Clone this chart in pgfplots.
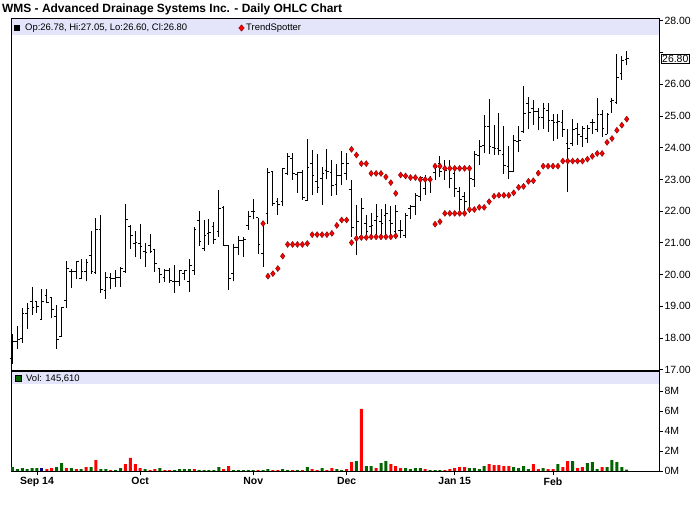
\documentclass[border=0pt]{standalone}
\usepackage{pgfplots}
\pgfplotsset{compat=1.18}
\usepackage{pgfplotstable}
\usepackage{fontspec}
\setmainfont{Liberation Sans}
\definecolor{lav}{RGB}{228,228,250}
\definecolor{vgreen}{RGB}{0,100,0}
\definecolor{vblue}{RGB}{0,0,128}
\definecolor{tsdark}{RGB}{120,0,0}

\pgfplotstableread{
i o h l c
0 17.35 18.12 17.19 17.88
1 17.88 18.37 17.66 17.95
2 17.99 18.95 17.85 18.77
3 18.77 19.09 18.30 18.93
4 19.14 19.60 18.72 18.96
5 19.14 19.16 18.79 18.98
6 18.58 19.54 18.58 19.14
7 19.35 19.56 19.09 19.11
8 19.29 19.29 18.63 18.90
9 18.67 19.03 17.66 17.95
10 18.06 18.98 18.03 18.96
11 19.19 20.42 18.95 20.19
12 20.09 20.19 19.58 20.11
13 20.11 20.42 19.86 20.40
14 19.87 20.49 19.87 20.09
15 20.09 20.49 19.79 20.38
16 20.61 21.37 20.03 20.09
17 20.06 21.77 20.03 21.42
18 21.42 21.87 19.42 19.53
19 19.51 20.09 19.24 19.91
20 19.91 20.05 19.53 19.87
21 19.87 20.16 19.61 19.91
22 19.91 20.24 19.61 20.19
23 20.09 22.22 20.06 21.74
24 21.51 21.56 20.82 21.24
25 20.98 21.38 20.56 21.00
26 20.98 21.59 20.49 20.90
27 20.74 21.00 20.24 20.70
28 20.91 21.27 20.67 20.74
29 20.79 20.80 20.09 20.35
30 20.19 20.19 19.74 20.00
31 19.91 20.19 19.77 20.14
32 20.14 20.22 19.74 19.82
33 19.77 20.30 19.42 19.77
34 19.77 20.16 19.64 20.12
35 20.04 20.16 19.82 20.12
36 19.77 20.48 19.46 20.30
37 20.12 21.51 19.98 21.42
38 21.70 22.01 20.90 21.03
39 20.82 21.72 20.75 21.24
40 21.30 21.74 20.93 21.32
41 21.51 21.66 20.98 21.11
42 21.35 22.66 21.19 22.08
43 22.12 22.16 20.91 20.92
44 20.93 20.93 19.51 19.88
45 20.03 20.98 19.79 20.87
46 20.84 21.21 20.61 21.06
47 21.09 21.19 20.56 21.12
48 21.56 22.00 21.42 21.82
49 21.98 22.37 21.74 21.98
50 21.80 21.80 20.66 20.95
51 20.66 21.66 20.24 21.61
52 21.93 23.35 21.59 23.22
53 23.24 23.26 22.16 22.24
54 22.29 22.43 21.89 22.21
55 22.29 23.35 22.16 23.35
56 23.19 23.82 23.14 23.71
57 23.66 23.85 22.98 23.19
58 23.17 23.24 22.58 23.22
59 23.21 23.31 22.35 22.42
60 22.35 24.27 22.33 23.37
61 23.50 23.93 22.50 23.14
62 22.95 23.80 22.58 22.74
63 23.03 23.38 22.19 23.19
64 23.29 23.95 23.00 23.24
65 23.21 23.61 22.47 22.82
66 22.85 23.50 22.51 23.14
67 23.14 23.89 22.82 23.50
68 23.19 23.82 22.98 23.50
69 22.68 22.98 21.19 21.49
70 21.14 22.19 20.61 21.66
71 21.19 22.40 21.14 22.08
72 21.61 21.87 21.19 21.35
73 21.53 21.93 21.19 21.56
74 21.72 22.24 21.19 21.82
75 21.66 22.08 21.19 21.61
76 21.87 22.22 21.21 21.93
77 21.69 22.16 21.21 21.61
78 21.35 22.19 21.24 21.98
79 21.40 21.72 21.14 21.38
80 21.24 21.95 21.14 21.87
81 22.08 22.19 21.74 22.14
82 22.16 22.58 21.87 22.50
83 22.47 23.10 22.33 23.06
84 22.72 23.14 22.51 23.00
85 23.00 23.10 22.56 23.00
86 23.21 23.45 22.98 23.38
87 23.50 23.74 23.08 23.24
88 23.31 23.61 22.98 23.29
89 23.35 23.61 22.72 23.03
90 23.19 23.42 22.45 22.71
91 22.63 22.77 22.00 22.38
92 22.45 22.61 21.95 22.29
93 22.05 23.30 21.95 23.02
94 23.00 23.90 22.77 23.80
95 23.77 24.24 23.45 24.05
96 24.08 25.03 23.82 24.66
97 24.66 25.55 23.80 24.05
98 24.01 24.71 23.77 23.98
99 23.98 25.09 23.77 23.92
100 23.79 24.70 23.17 23.45
101 23.42 24.05 23.03 23.24
102 23.26 24.40 23.24 24.22
103 24.20 24.70 23.87 24.22
104 24.50 25.94 24.46 25.08
105 25.40 25.61 24.60 25.10
106 25.24 25.50 24.71 25.13
107 25.13 25.24 24.55 24.95
108 24.95 25.42 24.60 25.24
109 25.19 25.42 24.50 24.87
110 24.85 25.05 24.22 24.79
111 24.79 25.05 24.29 24.82
112 24.79 25.19 24.34 24.56
113 24.13 24.58 22.61 23.98
114 24.13 24.90 24.05 24.56
115 24.61 24.77 24.08 24.42
116 24.34 24.68 24.01 24.61
117 24.29 24.71 24.16 24.61
118 24.79 24.90 24.43 24.79
119 24.58 25.58 24.50 25.06
120 25.06 25.19 24.34 24.61
121 24.43 25.08 24.43 25.06
122 25.45 25.58 25.10 25.48
123 25.42 26.97 25.38 26.22
124 26.34 26.89 26.15 26.74
125 26.78 27.05 26.60 26.80
}\ohlc

\begin{document}
\begin{tikzpicture}
\useasboundingbox (0bp,0bp) rectangle (700bp,512bp);
\fill[white] (0bp,0bp) rectangle (700bp,512bp);
\fill[lav] (11bp,477bp) rectangle (659bp,492.5bp);
\fill[lav] (11bp,128bp) rectangle (659bp,139.5bp);

\begin{axis}[at={(11bp,141bp)}, anchor=south west, scale only axis,
  width=648bp, height=352bp,
  xmin=-0.29, xmax=131.57, ymin=16.96, ymax=28.06,
  xtick=\empty,
  ytick={17,18,19,20,21,22,23,24,25,26,27,28},
  yticklabels={17.00,18.00,19.00,20.00,21.00,22.00,23.00,24.00,25.00,26.00,,28.00},
  ytick pos=right, yticklabel pos=right,
  tick align=outside, major tick length=4bp,
  tick style={black, line width=0.8bp},
  yticklabel style={font=\fontsize{10.5}{12}\selectfont, xshift=-2bp},
  axis line style={line width=1bp},
  clip=false]
\addplot[black, line width=1bp, quiver={u=0, v=\thisrow{h}-\thisrow{l}}] table[x=i, y=l] {\ohlc};
\addplot[black, line width=1bp, quiver={u=-0.45, v=0}] table[x=i, y=o] {\ohlc};
\addplot[black, line width=1bp, quiver={u=0.45, v=0}] table[x=i, y=c] {\ohlc};
\addplot[only marks, mark=diamond*, mark size=3bp,
  mark options={fill=red, draw=tsdark, line width=0.4bp}] coordinates {
(51,21.61) (52,19.95) (53,20.03) (54,20.19) (55,20.58) (56,20.95) (57,20.95) (58,20.95) (59,20.95) (60,20.98)
(61,21.26) (62,21.26) (63,21.26) (64,21.26) (65,21.30) (66,21.55) (67,21.72) (68,21.72)
(69,23.95) (70,23.77) (71,23.50) (72,23.50) (73,23.19) (74,23.19) (75,23.19) (76,23.08) (77,22.90) (78,22.56)
(69,21.01) (70,21.14) (71,21.17) (72,21.17) (73,21.19) (74,21.19) (75,21.19) (76,21.19) (77,21.19) (78,21.22)
(79,23.14) (80,23.11) (81,23.06) (82,23.06) (83,23.00) (84,23.00) (85,23.00)
(86,23.42) (87,23.42) (88,23.35) (89,23.35) (90,23.35) (91,23.35) (92,23.35) (93,23.35)
(86,21.59) (87,21.67) (88,21.93) (89,21.93) (90,21.93) (91,21.93) (92,21.93) (93,22.05) (94,22.05)
(95,22.12) (96,22.12) (97,22.30) (98,22.47) (99,22.50) (100,22.50) (101,22.50) (102,22.58) (103,22.75)
(104,22.78) (105,22.94) (106,22.96) (107,23.20) (108,23.42) (109,23.42) (110,23.42) (111,23.42)
(112,23.58) (113,23.58) (114,23.58) (115,23.58) (116,23.58) (117,23.64) (118,23.73) (119,23.82)
(120,23.82) (121,24.17) (122,24.29) (123,24.55) (124,24.71) (125,24.90)
};
\end{axis}

\begin{axis}[at={(11bp,41bp)}, anchor=south west, scale only axis,
  width=648bp, height=100bp,
  xmin=-0.29, xmax=131.57, ymin=0, ymax=10,
  xtick={5,26,49,68,90,110},
  xticklabels={Sep 14,Oct,Nov,Dec,Jan 15,Feb},
  xtick pos=bottom,
  ytick={0,2,4,6,8},
  yticklabels={0M,2M,4M,6M,8M},
  ytick pos=right, yticklabel pos=right,
  tick align=outside, major tick length=4bp,
  tick style={black, line width=0.8bp},
  yticklabel style={font=\fontsize{10.5}{12}\selectfont, xshift=-2bp},
  xticklabel style={font=\fontsize{10.5}{12}\selectfont\bfseries, yshift=1bp},
  axis line style={line width=1bp}]
\addplot[ybar, bar width=3bp, fill=vgreen, draw=none] coordinates {
(0,0.4) (1,0.2) (2,0.3) (3,0.2) (4,0.3) (5,0.3) (9,0.4) (10,0.8) (12,0.3) (14,0.2) (16,0.4) (18,0.2) (19,0.2)
(21,0.1) (22,0.3) (27,0.2) (30,0.3) (33,0.1) (34,0.2) (35,0.2) (36,0.2) (38,0.1) (39,0.1) (40,0.1) (41,0.1)
(42,0.4) (45,0.1) (46,0.1) (47,0.1) (48,0.1) (49,0.1) (51,0.1) (52,0.2) (55,0.2) (56,0.1) (58,0.1) (60,0.4)
(63,0.3) (66,0.2) (67,0.1) (70,1.0) (72,0.5) (73,0.5) (75,0.8) (76,1.0) (80,0.3) (81,0.2) (82,0.3) (83,0.3)
(85,0.1) (86,0.1) (87,0.1) (93,0.3) (94,0.3) (95,0.2) (96,0.5) (102,0.4) (103,0.3) (104,0.5) (105,0.2)
(108,0.3) (111,0.7) (114,1.0) (117,0.8) (118,0.9) (119,0.2) (121,0.4) (122,1.1) (123,0.9) (124,0.4) (125,0.146)
};
\addplot[ybar, bar width=3bp, fill=red, draw=none] coordinates {
(7,0.2) (8,0.3) (11,0.3) (13,0.2) (15,0.4) (17,1.1) (20,0.1) (23,0.7) (24,1.3) (25,0.7) (26,0.3) (28,0.1)
(29,0.2) (31,0.1) (32,0.1) (37,0.2) (43,0.2) (44,0.5) (50,0.1) (53,0.1) (54,0.1) (57,0.1) (59,0.1) (61,0.2)
(62,0.1) (64,0.1) (65,0.3) (68,0.2) (69,0.9) (71,6.2) (74,0.3) (77,0.7) (78,0.5) (79,0.3) (84,0.2) (88,0.1)
(89,0.2) (90,0.3) (91,0.4) (92,0.4) (97,0.7) (98,0.6) (99,0.6) (100,0.5) (101,0.5) (106,0.7) (107,0.2)
(109,0.2) (110,0.2) (112,0.4) (113,1.0) (115,0.3) (116,0.4) (120,0.4)
};
\addplot[ybar, bar width=3bp, fill=vblue, draw=none] coordinates {(6,0.3)};
\end{axis}

\begin{scope}[x=1bp,y=1bp]
\draw[line width=2bp] (11,141) -- (659,141);

\node[anchor=west, inner sep=0pt, font=\fontsize{12}{14}\selectfont\bfseries] at (2,503) {WMS - Advanced Drainage Systems Inc. - Daily OHLC Chart};

\fill[black] (14,481) rectangle (20,487);
\node[anchor=west, inner sep=0pt, font=\fontsize{9.5}{11}\selectfont] at (25,484.3) {Op:26.78, Hi:27.05, Lo:26.60, Cl:26.80};
\fill[red, draw=tsdark, line width=0.3bp] (241.5,480.8) -- (244.3,484) -- (241.5,487.2) -- (238.7,484) -- cycle;
\node[anchor=west, inner sep=0pt, font=\fontsize{9.5}{11}\selectfont] at (246,484.3) {TrendSpotter};

\draw[fill=vgreen, line width=0.5bp] (15.5,130.5) rectangle (21.5,136.5);
\node[anchor=west, inner sep=0pt, font=\fontsize{9.5}{11}\selectfont] at (26,133.5) {Vol: 145,610};

\node[anchor=west, draw=black, fill=white, line width=0.8bp, inner sep=0.8bp, font=\fontsize{10.5}{12}\selectfont] at (661,453.1) {26.80};
\end{scope}
\end{tikzpicture}
\end{document}
